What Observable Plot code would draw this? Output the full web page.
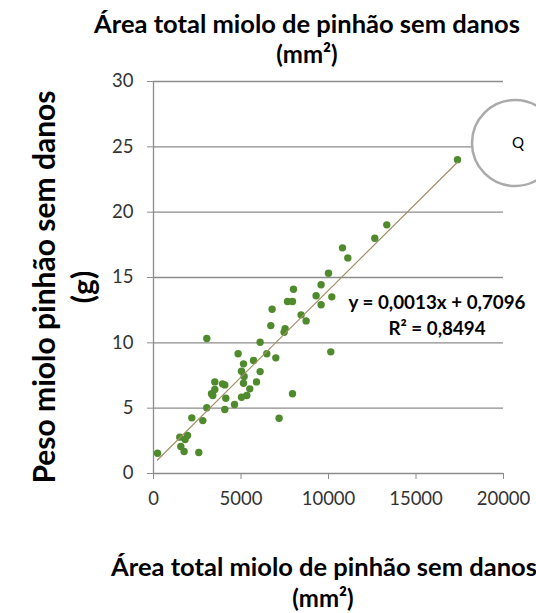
<!DOCTYPE html>
<html><head><meta charset="utf-8">
<script src="https://cdn.jsdelivr.net/npm/d3@7"></script>
<script src="https://cdn.jsdelivr.net/npm/@observablehq/plot@0.6"></script>
<style>body{margin:0;background:#fff} svg{display:block}</style>
</head><body><div id="chart"></div>
<script>
// Data
const area = [229,1560,1749,2589,1503,1943,1806,2189,2817,3046,4074,4629,4131,5029,5331,3314,3389,3503,3503,3943,4074,5503,5143,5886,5179,5029,6093,5143,5714,4834,6093,6474,6989,7177,7943,10131,3046,7463,7520,6703,8720,8434,6777,9577,7657,7943,9291,10189,8000,9577,10000,10800,11103,12646,13331,17371];
const peso = [1.55,2.07,1.68,1.61,2.78,2.91,2.6,4.26,4.05,5.03,4.9,5.28,5.76,5.84,5.97,6.1,5.97,6.43,7.01,6.86,6.78,6.48,6.91,7.01,7.42,7.83,7.8,8.39,8.65,9.16,10.05,9.16,8.85,4.23,6.1,9.31,10.33,10.81,11.09,11.32,11.68,12.14,12.57,12.91,13.16,13.16,13.6,13.52,14.1,14.44,15.33,17.27,16.5,18.0,19.03,24.02];
const xTicks = [0,5000,10000,15000,20000];
const yTicks = [0,5,10,15,20,25,30];
const titleLines = ["Área total miolo de pinhão sem danos", "(mm²)"];
const xTitleLines = ["Área total miolo de pinhão sem danos", "(mm²)"];
const yTitleLines = ["Peso miolo pinhão sem danos", "(g)"];
const equationLines = ["y = 0,0013x + 0,7096", "R² = 0,8494"];
const annotationLabel = "Q";

const data = area.map((a, i) => ({area: a, peso: peso[i]}));
const gray = "#8c8c8c";

const chart = Plot.plot({
  width: 536, height: 613,
  marginLeft: 153, marginRight: 33, marginTop: 81, marginBottom: 140,
  style: {fontFamily: "Lato, sans-serif", fontSize: "18.5px", color: "#333", background: "#fff", overflow: "visible"},
  x: {domain: [0, 20000], label: null},
  y: {domain: [0, 30], label: null},
  marks: [
    Plot.gridY(yTicks, {stroke: gray, strokeOpacity: 1, strokeWidth: 1.3}),
    Plot.ruleX([0], {stroke: gray, strokeWidth: 1.3}),
    Plot.axisX({ticks: xTicks, tickFormat: d => String(d), tickSize: 6, tickPadding: 12, stroke: gray, fill: "#333", label: null}),
    Plot.axisY({ticks: yTicks, tickSize: 6, tickPadding: 14, stroke: gray, fill: "#333", label: null}),
    Plot.dot(data, {x: "area", y: "peso", r: 3.7, fill: "#4f8a2d", stroke: "none"}),
    Plot.linearRegressionY(data, {x: "area", y: "peso", stroke: "#a09068", strokeWidth: 1.2, ci: 0})
  ]
});
document.getElementById("chart").appendChild(chart);

const svg = d3.select(chart);
const font = "Lato, sans-serif";
function label(x, y, text, size, opts = {}) {
  const t = svg.append("text").attr("text-anchor", "middle")
    .attr("font-family", font).attr("font-weight", opts.weight || "bold")
    .attr("font-size", size).attr("fill", "#000").text(text);
  if (opts.rotate) t.attr("transform", `translate(${x},${y}) rotate(-90)`);
  else t.attr("x", x).attr("y", y);
  if (opts.dy) t.attr("dy", opts.dy);
  return t;
}
// top title
label(307, 33, titleLines[0], 25.5);
label(307, 63, titleLines[1], 24);
// bottom title
label(324, 576, xTitleLines[0], 25.5);
label(323, 607, xTitleLines[1], 24);
// y title
label(55, 287, yTitleLines[0], 30, {rotate: true});
label(94, 287, yTitleLines[1], 30, {rotate: true});
// equation
label(437, 309, equationLines[0], 18.8);
label(437, 335, equationLines[1], 18.8);
// annotation circle
svg.append("circle").attr("cx", 515).attr("cy", 143).attr("r", 43)
  .attr("fill", "#fff").attr("stroke", "#aaaaaa").attr("stroke-width", 2.5);
label(518, 143, annotationLabel, 15, {weight: "normal", dy: "0.35em"});
</script>
</body></html>
